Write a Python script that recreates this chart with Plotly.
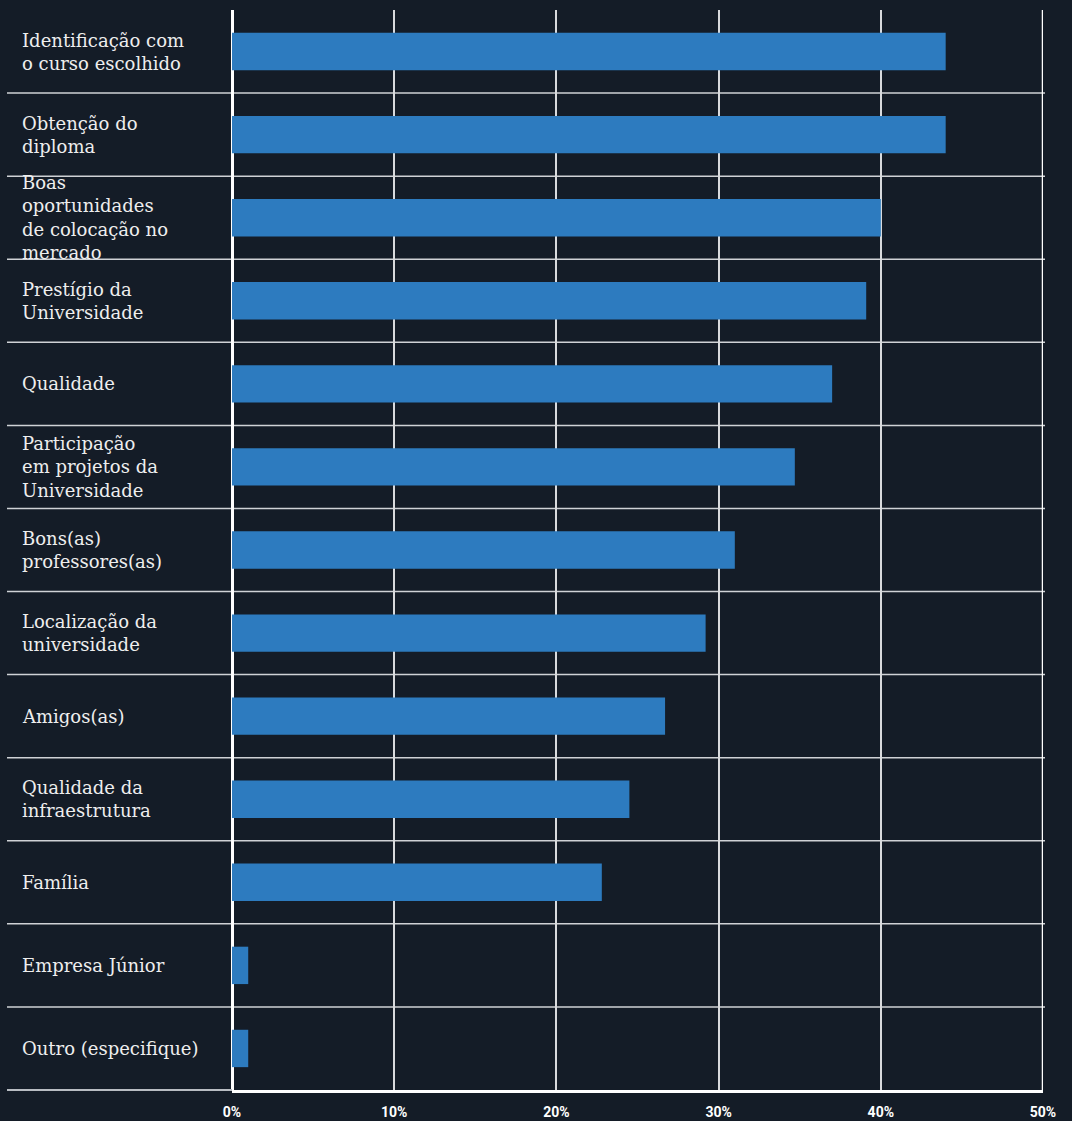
import plotly.graph_objects as go

categories = [
    "Identificação com<br>o curso escolhido",
    "Obtenção do<br>diploma",
    "Boas<br>oportunidades<br>de colocação no<br>mercado",
    "Prestígio da<br>Universidade",
    "Qualidade",
    "Participação<br>em projetos da<br>Universidade",
    "Bons(as)<br>professores(as)",
    "Localização da<br>universidade",
    "Amigos(as)",
    "Qualidade da<br>infraestrutura",
    "Família",
    "Empresa Júnior",
    "Outro (especifique)",
]
values = [44.0, 44.0, 40.0, 39.1, 37.0, 34.7, 31.0, 29.2, 26.7, 24.5, 22.8, 1.0, 1.0]
tick_vals = [0, 10, 20, 30, 40, 50]
tick_text = ["0%", "10%", "20%", "30%", "40%", "50%"]

W, H = 1072, 1121
ML, MR, MT, MB = 232, 29, 10, 31
plot_w = W - ML - MR
BG = "#141c27"

fig = go.Figure(go.Bar(
    x=values, y=categories, orientation="h",
    marker=dict(color="#2d7bbf", line=dict(width=0)),
    width=0.45, hoverinfo="x+y",
))

label_x = (20 - ML) / plot_w
sep_x0 = (7 - ML) / plot_w
sep_x1 = (1045 - ML) / plot_w

annotations = []
for cat in categories:
    annotations.append(dict(
        x=label_x, xref="paper", y=cat, yref="y",
        text=cat, showarrow=False, xanchor="left", yanchor="middle",
        align="left",
        font=dict(family="DejaVu Serif", size=18, color="#eeeeee"),
    ))

shapes = []
for i in range(len(categories) - 1):
    shapes.append(dict(
        type="line", xref="paper", yref="y", x0=sep_x0, x1=sep_x1,
        y0=i + 0.5, y1=i + 0.5, line=dict(color="#cfd2d6", width=1.5), layer="below",
    ))
shapes.append(dict(
    type="line", xref="paper", yref="paper", x0=sep_x0, x1=0,
    y0=0, y1=0, line=dict(color="#b8bcc2", width=2),
))
shapes.append(dict(
    type="line", xref="x", yref="paper", x0=50, x1=50,
    y0=0, y1=1, line=dict(color="#ffffff", width=2.5),
))

fig.update_layout(
    width=W, height=H,
    margin=dict(l=ML, r=MR, t=MT, b=MB, autoexpand=False),
    paper_bgcolor=BG, plot_bgcolor="rgba(0,0,0,0)",
    showlegend=False, bargap=0.55,
    annotations=annotations, shapes=shapes,
    xaxis=dict(
        range=[0, 50], tickvals=tick_vals, ticktext=tick_text,
        showgrid=True, gridcolor="#d8dadd", gridwidth=1.5,
        zeroline=True, zerolinecolor="#ffffff", zerolinewidth=2.5,
        showline=True, linecolor="#ffffff", linewidth=2.5,
        ticks="outside", ticklen=7, tickcolor="rgba(0,0,0,0)",
        tickfont=dict(family="Roboto", size=14, color="#ffffff", weight="bold"),
        fixedrange=True, automargin=False,
    ),
    yaxis=dict(
        autorange="reversed", showticklabels=False, showgrid=False,
        zeroline=False, showline=False, fixedrange=True, automargin=False,
    ),
)

fig.write_html(
    "out.html",
    config={"displayModeBar": False},
    post_script="document.body.style.margin='0';document.body.style.background='%s';" % BG,
)
